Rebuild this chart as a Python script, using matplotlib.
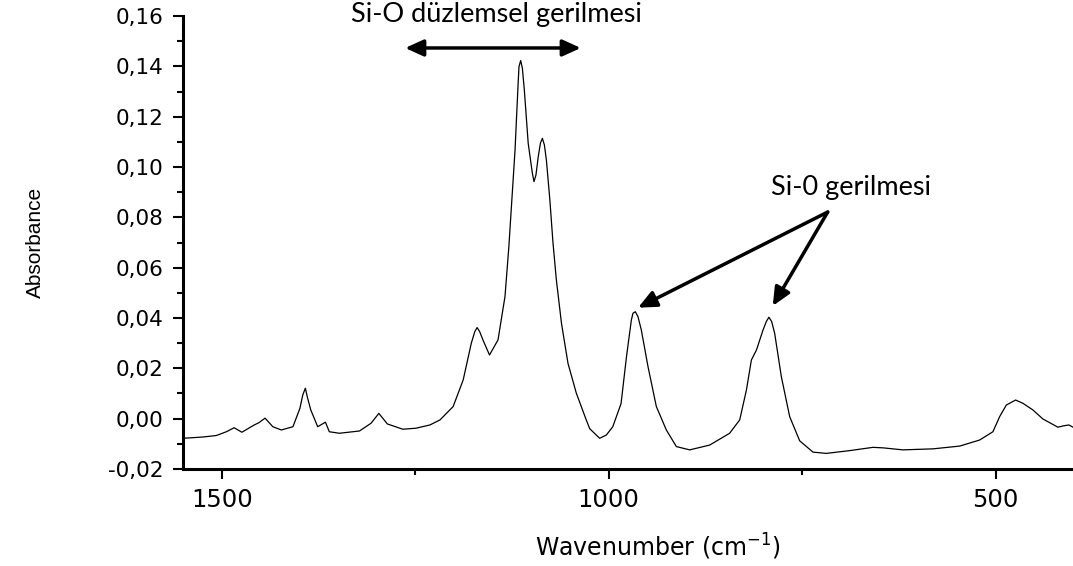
import matplotlib
matplotlib.use("Agg")
import matplotlib.pyplot as plt
from matplotlib.ticker import MultipleLocator, FuncFormatter

# FTIR spectrum
wavenumber = [1550, 1524.5, 1507, 1494, 1484, 1474, 1458, 1452, 1444, 1434,
              1423, 1408, 1399, 1395.3, 1392, 1389, 1385, 1376, 1366, 1361,
              1348, 1322, 1307, 1297, 1286, 1266, 1249, 1231, 1218, 1201,
              1188, 1177.5, 1173, 1170, 1166.7, 1162.5, 1154, 1143, 1134, 1129,
              1121, 1117, 1115.9, 1113.7, 1111.5, 1109, 1104, 1098.6, 1096.5, 1094,
              1091, 1088.2, 1085.7, 1083.1, 1080.5, 1076, 1072, 1067.6, 1061, 1052.6,
              1041.8, 1029, 1024.5, 1011.6, 1003, 994.7, 984, 977, 970.7, 968.6,
              965.6, 962.1, 957.8, 949.2, 938.4, 925.5, 912.5, 895.3, 869.5, 843.7,
              830.7, 822, 815.6, 809, 800.6, 796.3, 792.9, 789.4, 785.5, 776.9,
              766.1, 753.2, 736, 718.7, 688.6, 658.5, 645.6, 619.8, 581, 546.5,
              520.7, 503.5, 494.8, 486.2, 474.2, 464.7, 452, 439, 419.5, 413,
              405.3, 400]
absorbance = [-0.0078, -0.0073, -0.0067, -0.0052, -0.0036, -0.0054, -0.0025, -0.0016, 0.0002, -0.0032,
              -0.0045, -0.0032, 0.0041, 0.0094, 0.0121, 0.0081, 0.0035, -0.0032, -0.0014, -0.0052,
              -0.0058, -0.0049, -0.0018, 0.0021, -0.0021, -0.0042, -0.0038, -0.0025, -0.0005, 0.0048,
              0.0154, 0.0300, 0.0346, 0.0362, 0.0346, 0.0313, 0.0253, 0.0313, 0.0485, 0.0683,
              0.1068, 0.1333, 0.1399, 0.1423, 0.1392, 0.1306, 0.1094, 0.0975, 0.0942, 0.0968,
              0.1041, 0.1095, 0.1114, 0.1088, 0.1028, 0.0869, 0.0700, 0.0551, 0.0379, 0.0220,
              0.0101, -0.0005, -0.0040, -0.0078, -0.0065, -0.0032, 0.0060, 0.0246, 0.0392, 0.0419,
              0.0425, 0.0405, 0.0352, 0.0207, 0.0048, -0.0045, -0.0111, -0.0124, -0.0105, -0.0058,
              -0.0005, 0.0114, 0.0233, 0.0273, 0.0352, 0.0386, 0.0403, 0.0386, 0.0339, 0.0167,
              0.0008, -0.0088, -0.0133, -0.0138, -0.0127, -0.0114, -0.0116, -0.0124, -0.0120, -0.0109,
              -0.0085, -0.0052, 0.0008, 0.0054, 0.0074, 0.0061, 0.0035, -0.0001, -0.0034, -0.0029,
              -0.0025, -0.0034]

band_label = "Si-O düzlemsel gerilmesi"
band_span = (1263, 1036)
band_y = 0.1473
band_text_xy = (1145, 0.1608)

peak_label = "Si-0 gerilmesi"
peak_text_xy = (687, 0.0917)
peak_tail = (717, 0.0821)
peak_heads = [(962, 0.0441), (788, 0.0448)]

fig = plt.figure(figsize=(10.73, 5.66), dpi=100)
ax = fig.add_axes([0.1706, 0.1714, 1 - 0.1706, 0.9717 - 0.1714])

ax.plot(wavenumber, absorbance, color="black", lw=0.9)
ax.set_xlim(1550, 400)
ax.set_ylim(-0.02, 0.16)

for s in ("top", "right"):
    ax.spines[s].set_visible(False)
for s in ("left", "bottom"):
    ax.spines[s].set_linewidth(2.2)

ax.xaxis.set_major_locator(MultipleLocator(500))
ax.xaxis.set_minor_locator(MultipleLocator(250))
ax.yaxis.set_major_locator(MultipleLocator(0.02))
ax.yaxis.set_minor_locator(MultipleLocator(0.01))
ax.yaxis.set_major_formatter(FuncFormatter(lambda v, p: f"{v:.2f}".replace(".", ",")))
ax.tick_params(which="major", direction="out", length=7, width=1.5, pad=7)
ax.tick_params(which="minor", direction="out", length=4, width=1.5)
ax.tick_params(axis="x", labelsize=17.5)
ax.tick_params(axis="y", labelsize=15.5)
for lab in ax.get_xticklabels() + ax.get_yticklabels():
    lab.set_family("DejaVu Sans")

fig.text(658 / 1073, 0.034, "Wavenumber (cm$^{-1}$)", fontsize=17,
         family="DejaVu Sans", ha="center", va="center")
ax.set_ylabel("Absorbance", fontsize=15, family="Liberation Sans")
ax.yaxis.set_label_coords(-0.155, 0.5)

arrow_style = "<|-|>,head_length=1.1,head_width=0.5"
ax.annotate("", xy=(band_span[1], band_y), xytext=(band_span[0], band_y),
            arrowprops=dict(arrowstyle=arrow_style, color="black", lw=2.5,
                            mutation_scale=10, shrinkA=0, shrinkB=0),
            annotation_clip=False)
ax.text(band_text_xy[0], band_text_xy[1], band_label, ha="center", va="center",
        fontsize=19.5, family="Lato", clip_on=False)

ax.text(peak_text_xy[0], peak_text_xy[1], peak_label, ha="center", va="center",
        fontsize=19.5, family="Lato")
for hx, hy in peak_heads:
    ax.annotate("", xy=(hx, hy), xytext=peak_tail,
                arrowprops=dict(arrowstyle="-|>,head_length=1.1,head_width=0.5",
                                color="black", lw=2.5, mutation_scale=10,
                                shrinkA=0, shrinkB=0))

fig.savefig("out.png", dpi=100)
